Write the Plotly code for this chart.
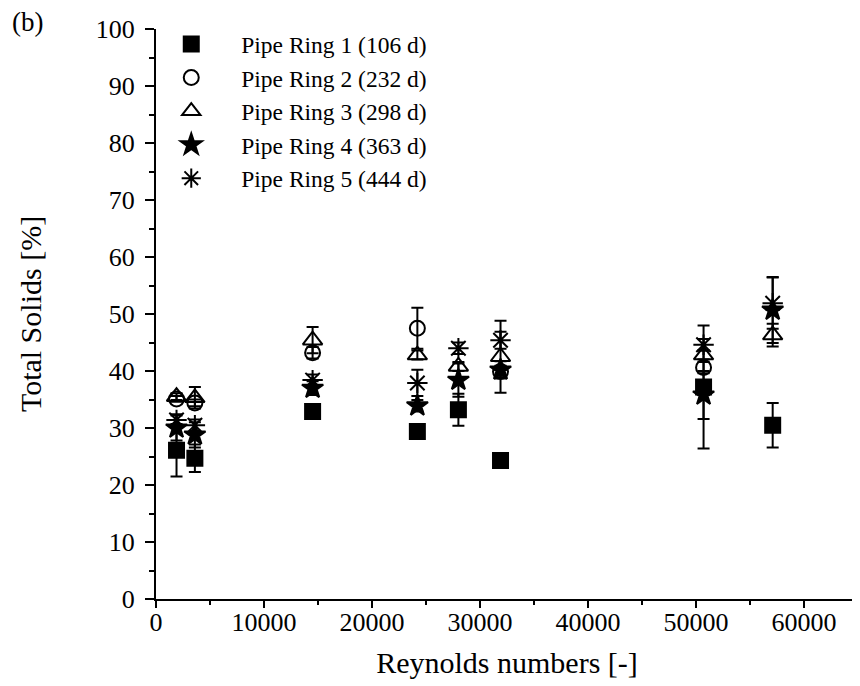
import plotly.graph_objects as go

# Reynolds numbers (x positions of measurement groups)
reynolds = [1900, 3600, 14500, 24200, 28000, 31900, 50700, 57100]

# Pipe Ring 1 (106 d)
ring1_y = [26.1, 24.7, 32.9, 29.4, 33.2, 24.3, 37.2, 30.5]
ring1_err = [4.6, 2.4, 0.5, 0.6, 2.8, 0.5, 10.8, 3.9]

# Pipe Ring 2 (232 d)
ring2_x = [1900, 3600, 14500, 24200, 31900, 50700]
ring2_y = [35.1, 34.4, 43.2, 47.5, 39.9, 40.6]
ring2_err = [0.5, 0.6, 1.0, 3.6, 1.0, 1.0]

# Pipe Ring 3 (298 d)
ring3_y = [35.5, 35.3, 45.4, 42.8, 40.8, 42.5, 42.8, 46.3]
ring3_err = [0.6, 1.9, 2.3, 0.8, 0.8, 6.3, 0.8, 2.0]

# Pipe Ring 4 (363 d)
ring4_y = [30.0, 28.8, 37.0, 33.9, 38.4, 40.2, 35.8, 50.7]
ring4_err = [2.2, 2.2, 1.2, 1.0, 2.9, 1.5, 4.2, 5.8]

# Pipe Ring 5 (444 d)
ring5_y = [31.4, 30.5, 38.4, 37.9, 44.0, 45.4, 44.6, 51.9]
ring5_err = [1.0, 1.0, 1.0, 2.3, 1.0, 1.5, 1.0, 4.5]

names = ["Pipe Ring 1 (106 d)", "Pipe Ring 2 (232 d)", "Pipe Ring 3 (298 d)",
         "Pipe Ring 4 (363 d)", "Pipe Ring 5 (444 d)"]

FONT = "Liberation Serif, Times New Roman, serif"

series = [
    (reynolds, ring1_y, ring1_err, "square", 15),
    (ring2_x, ring2_y, ring2_err, "circle-open", 15),
    (reynolds, ring3_y, ring3_err, "triangle-up-open", 17),
    (reynolds, ring4_y, ring4_err, "star", 16),
    (reynolds, ring5_y, ring5_err, "asterisk-open", 17),
]

fig = go.Figure()
for i, (xs, ys, es, sym, sz) in enumerate(series):
    fig.add_trace(go.Scatter(
        x=xs, y=ys, mode="markers", name=names[i],
        legendgroup=str(i),
        marker=dict(symbol=sym, size=sz, color="black",
                    line=dict(color="black", width=2)),
        error_y=dict(type="data", array=es, visible=True,
                     color="black", thickness=2, width=6),
    ))

fig.add_annotation(text="(b)", xref="paper", yref="paper",
                   x=-0.208, y=1.012, xanchor="left", yanchor="middle",
                   showarrow=False, font=dict(family=FONT, size=27, color="black"))

fig.update_layout(
    width=852, height=678,
    margin=dict(l=148, r=2, t=21, b=87),
    paper_bgcolor="white", plot_bgcolor="white",
    font=dict(family=FONT, color="black", size=26),
    legend=dict(x=-0.021, y=1.012, xanchor="left", yanchor="top",
                font=dict(family=FONT, size=23.5, color="black"),
                bgcolor="rgba(0,0,0,0)", itemwidth=90,
                traceorder="normal", tracegroupgap=0),
    xaxis=dict(
        range=[0, 65000], dtick=10000, tick0=0, tickformat="d",
        showgrid=False, zeroline=False, automargin=False,
        showline=True, linecolor="black", linewidth=2,
        ticks="outside", ticklen=7, tickwidth=2, tickcolor="black",
        ticklabelstandoff=-8,
        minor=dict(dtick=5000, ticks="outside", ticklen=4, tickwidth=2, tickcolor="black"),
        tickfont=dict(family=FONT, size=26, color="black"),
        title=dict(text="Reynolds numbers [-]", standoff=16,
                   font=dict(family=FONT, size=30, color="black")),
    ),
    yaxis=dict(
        range=[0, 100], dtick=10, tick0=0,
        showgrid=False, zeroline=False, automargin=False,
        showline=True, linecolor="black", linewidth=2,
        ticks="outside", ticklen=9, tickwidth=2, tickcolor="black",
        ticklabelstandoff=5,
        minor=dict(dtick=5, ticks="outside", ticklen=5, tickwidth=2, tickcolor="black"),
        tickfont=dict(family=FONT, size=26, color="black"),
        title=dict(text="Total Solids [%]", standoff=45,
                   font=dict(family=FONT, size=30, color="black")),
    ),
)

fig.write_html("out.html")
